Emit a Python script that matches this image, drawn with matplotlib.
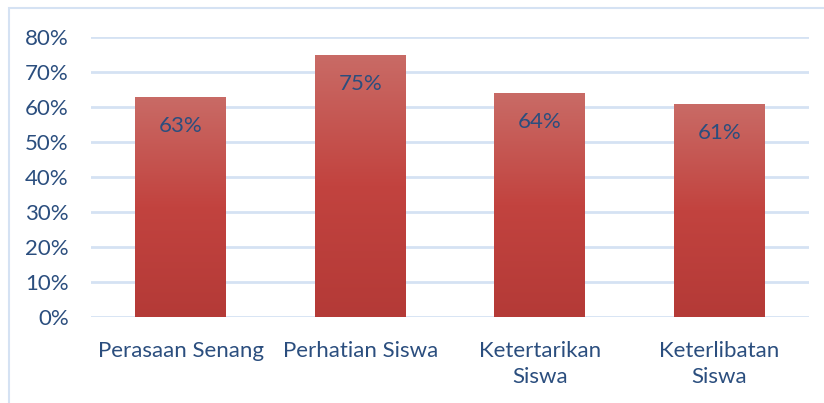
import numpy as np
import matplotlib.pyplot as plt
from matplotlib.patches import Rectangle
from matplotlib.colors import LinearSegmentedColormap

categories = ['Perasaan Senang', 'Perhatian Siswa', 'Ketertarikan\nSiswa', 'Keterlibatan\nSiswa']
values = [0.63, 0.75, 0.64, 0.61]
labels = ['63%', '75%', '64%', '61%']
yticks = [0, 0.1, 0.2, 0.3, 0.4, 0.5, 0.6, 0.7, 0.8]

plt.rcParams['font.family'] = ['Lato', 'DejaVu Sans']
txt_color = '#2B4E7E'
grid_color = '#D5E2F3'

fig = plt.figure(figsize=(8.24, 4.03), dpi=100)
# chart border (right and bottom are cut off in the original)
fig.patches.append(Rectangle((9/824, -0.1), 1.1, 1.1 - 8/403, transform=fig.transFigure,
                             fill=False, edgecolor=grid_color, linewidth=1.5))

ax = fig.add_axes([91/824, 1 - 317/403, (809 - 91)/824, (317 - 37)/403])

x = np.arange(len(categories))
bars = ax.bar(x, values, width=0.505, color='none', zorder=3)

# gradient per bar, lighter at top
cmap = LinearSegmentedColormap.from_list('redgrad', ['#B43A37', '#C2433F', '#C96B66'])
grad = np.linspace(0, 1, 256).reshape(-1, 1)
for b in bars:
    x0, w, h = b.get_x(), b.get_width(), b.get_height()
    im = ax.imshow(grad, cmap=cmap, origin='lower', aspect='auto',
                   extent=(x0, x0 + w, 0, h), zorder=3)
    im.set_clip_path(b)

for xi, v, lab in zip(x, values, labels):
    ax.annotate(lab, xy=(xi, v), xytext=(0, -21), textcoords='offset points',
                ha='center', va='center', fontsize=16, color=txt_color, zorder=4)

ax.set_yticks(yticks)
ax.set_yticklabels([f'{int(round(t * 100))}%' for t in yticks])
ax.set_xticks(x)
ax.set_xticklabels(categories, linespacing=1.4)
ax.tick_params(axis='both', length=0, labelsize=16, labelcolor=txt_color)
ax.tick_params(axis='y', pad=16)
ax.tick_params(axis='x', pad=17)
ax.grid(axis='y', color=grid_color, linewidth=2, zorder=0)
ax.set_axisbelow(True)
for s in ax.spines.values():
    s.set_visible(False)
ax.set_xlim(-0.5, 3.5)
ax.set_ylim(0, 0.8)

fig.savefig('out.png', dpi=100)
